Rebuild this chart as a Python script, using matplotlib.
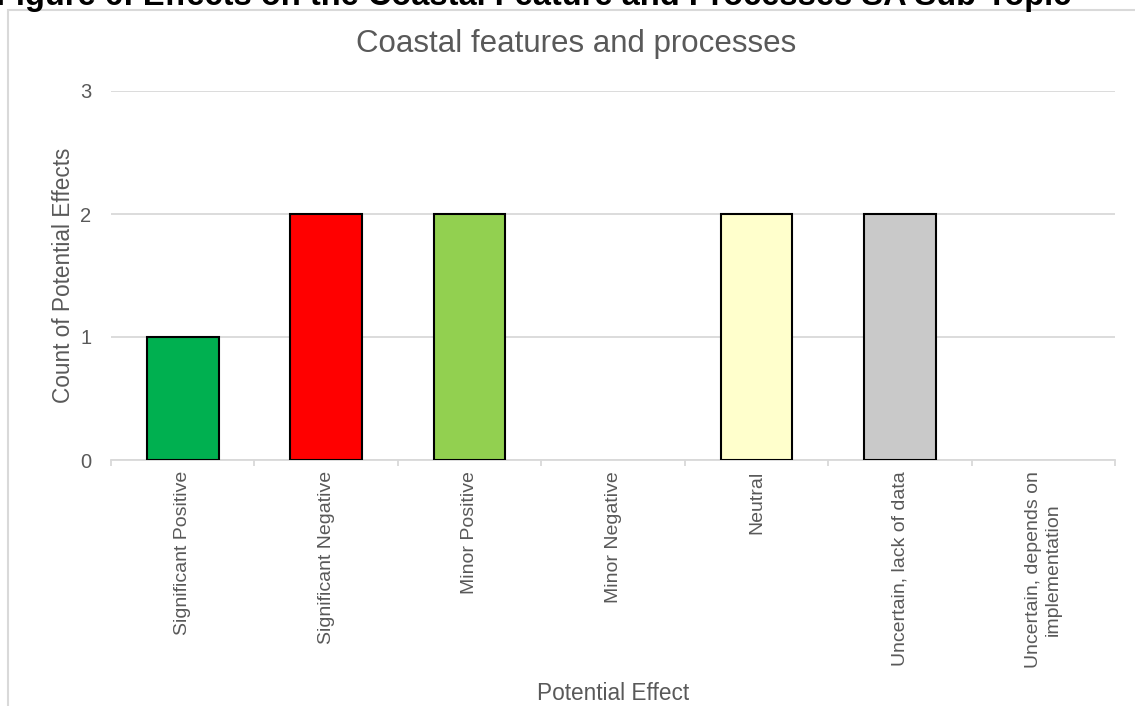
import matplotlib.pyplot as plt
from matplotlib.patches import Rectangle
import numpy as np

categories = [
    "Significant Positive",
    "Significant Negative",
    "Minor Positive",
    "Minor Negative",
    "Neutral",
    "Uncertain, lack of data",
    "Uncertain, depends on\nimplementation",
]
counts = [1, 2, 2, 0, 2, 2, 0]
bar_colors = ["#00B050", "#FF0000", "#92D050", "#FFC000", "#FFFFCC", "#C9C9C9", "#FFFFFF"]

TEXT = "#595959"
GRID = "#D9D9D9"
W, H = 1135, 706


def main():
    plt.rcParams["font.family"] = ["Liberation Sans", "DejaVu Sans"]
    fig = plt.figure(figsize=(W / 100, H / 100), dpi=100)

    # chart frame, runs off the right and bottom edges
    fig.patches.append(Rectangle((8 / W, -0.1), 1.2, 1 - 10 / H + 0.1,
                                 transform=fig.transFigure, fill=False,
                                 edgecolor=GRID, linewidth=1.5))

    # caption of the page, mostly cut off by the top edge
    fig.text(-4 / W, 1 - 5 / H, "Figure 6: Effects on the Coastal Feature and Processes SA Sub-Topic",
             fontsize=23.5, fontweight="bold", color="black", va="baseline", ha="left")

    ax = fig.add_axes([111 / W, 1 - 460 / H, (1115 - 111) / W, (460 - 91) / H])
    x = np.arange(len(categories))
    edges = ["black" if c > 0 else "none" for c in counts]
    ax.bar(x, counts, width=0.5, color=bar_colors, edgecolor=edges, linewidth=1.5, zorder=3)

    ax.set_xlim(-0.5, len(categories) - 0.5)
    ax.set_ylim(0, 3)
    ax.set_yticks([0, 1, 2, 3])
    ax.yaxis.grid(True, color=GRID, linewidth=1.3, zorder=0)
    ax.set_axisbelow(True)

    for side in ["top", "right", "left"]:
        ax.spines[side].set_visible(False)
    ax.spines["bottom"].set_color(GRID)
    ax.spines["bottom"].set_linewidth(1.3)

    ax.set_xticks(x)
    ax.set_xticklabels(categories, rotation=90, ha="center", va="top",
                       multialignment="center", fontsize=14, color=TEXT)
    ax.set_xticks(np.arange(len(categories) + 1) - 0.5, minor=True)
    ax.tick_params(axis="x", which="major", length=0, pad=8)
    ax.tick_params(axis="x", which="minor", length=4, color=GRID, width=1.3)
    ax.tick_params(axis="y", length=0, pad=14, labelsize=14.5, labelcolor=TEXT)

    ax.set_ylabel("Count of Potential Effects", fontsize=16.3, color=TEXT, labelpad=4)
    fig.text(613 / W, 1 - 693 / H, "Potential Effect", fontsize=16.3, color=TEXT,
             ha="center", va="center")
    fig.text(576 / W, 1 - 44 / H, "Coastal features and processes", fontsize=22.5,
             color=TEXT, ha="center", va="center")

    fig.savefig("out.png", dpi=100)
    plt.close(fig)


if __name__ == "__main__":
    main()
